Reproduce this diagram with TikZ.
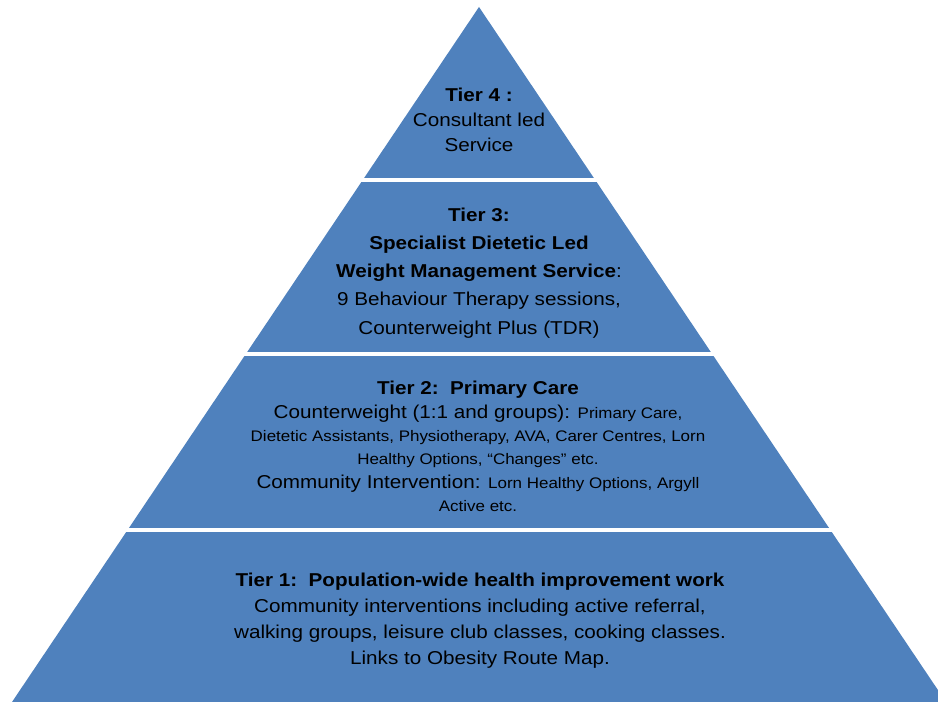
\documentclass[tikz,border=0pt]{standalone}
\usepackage{fontspec}
\setmainfont{Liberation Sans}[FakeStretch=1.11]
\usetikzlibrary{positioning}
\definecolor{tierblue}{RGB}{79,129,189}
\newcommand{\tiertext}{\fontsize{10.6}{14.4}\selectfont}
\newcommand{\tiersmall}{\fontsize{8.7}{12}\selectfont}
\tikzset{x=0.02cm, y=-0.02cm,
  tier/.style={fill=tierblue, draw=none},
  gap/.style={white, line width=0.08cm},
  label/.style={align=center, inner sep=0pt, text=black, font=\tiertext}}

\begin{document}
\begin{tikzpicture}
  \useasboundingbox (0,0) rectangle (938,702);
  \clip (0,0) rectangle (938,702);
  % pyramid with white gaps between the tiers
  \fill[tier] (479,7) -- (946,702) -- (12,702) -- cycle;
  \draw[gap] (0,180) -- (938,180);
  \draw[gap] (0,354.5) -- (938,354.5);
  \draw[gap] (0,530) -- (938,530);
  % tier texts
  \node[label] (tierfour) at (479,120) {\textbf{Tier 4 :}\\Consultant led\\Service};
  \node[label, font={\fontsize{10.6}{16}\selectfont}] (tierthree) at (479,273)
    {\textbf{Tier 3:}\\\textbf{Specialist Dietetic Led}\\\textbf{Weight Management Service}:\\
     9 Behaviour Therapy sessions,\\Counterweight Plus (TDR)};
  \node[label, font={\fontsize{10.6}{13}\selectfont}] (tiertwo) at (478,446)
    {\textbf{Tier 2:\ \ Primary Care}\\[1pt]
     Counterweight (1:1 and groups): {\tiersmall Primary Care,}\\
     {\tiersmall Dietetic Assistants, Physiotherapy, AVA, Carer Centres, Lorn}\\
     {\tiersmall Healthy Options, ``Changes'' etc.}\\[0.5pt]
     Community Intervention: {\tiersmall Lorn Healthy Options, Argyll}\\
     {\tiersmall Active etc.}};
  \node[label, font={\fontsize{10.6}{14.8}\selectfont}] (tierone) at (480,621)
    {\textbf{Tier 1:\ \ Population-wide health improvement work}\\
     Community interventions including active referral,\\
     walking groups, leisure club classes, cooking classes.\\
     Links to Obesity Route Map.};
\end{tikzpicture}
\end{document}
